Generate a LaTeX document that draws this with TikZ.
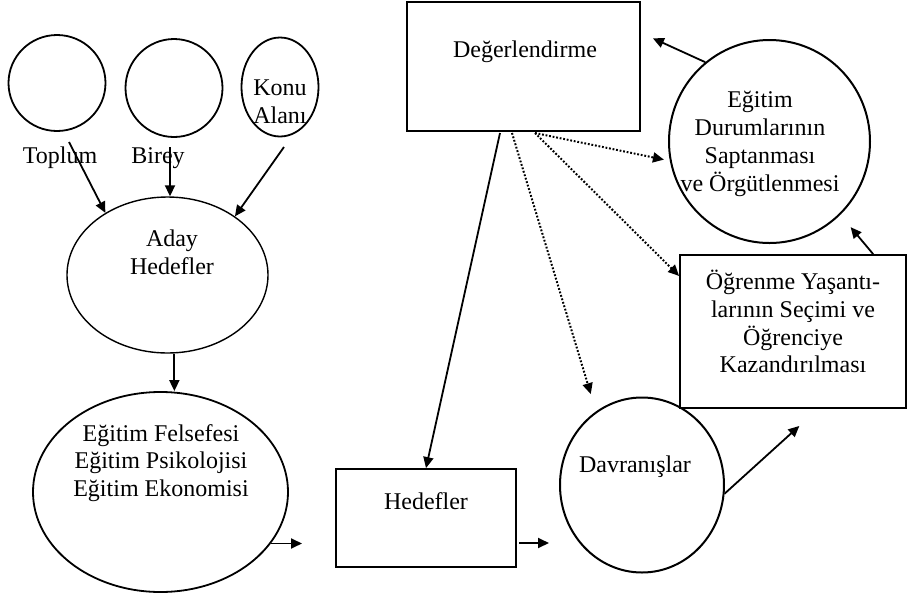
\documentclass[tikz,border=0pt]{standalone}
\usepackage{fontspec}
\setmainfont{Liberation Serif}
\usetikzlibrary{shapes.geometric,arrows.meta}

\tikzset{
  shapeline/.style={draw=black, line width=0.9pt},
  oval/.style={shapeline, ellipse, inner sep=0pt},
  box/.style={shapeline, rectangle, inner sep=0pt},
  txt/.style={align=center, inner sep=0pt, font=\fontsize{12}{13.9}\selectfont},
  arr/.style={line width=0.9pt, -{Triangle[length=5.5pt,width=5pt]}},
  dotarr/.style={arr, line width=1pt, dash pattern=on 0.9pt off 0.9pt}
}

\begin{document}
\begin{tikzpicture}[x=0.5pt, y=-0.5pt]
  \useasboundingbox (0,0) rectangle (907,596);

  % source circles
  \node[oval, minimum width=48.5pt, minimum height=48pt] (toplum) at (57,83) {};
  \node[oval, minimum width=48.5pt, minimum height=49pt] (birey) at (174,88) {};
  \node[oval, minimum width=38.5pt, minimum height=49.5pt] (konu) at (280,87) {};
  \node[txt] (konutxt) at (280,102) {Konu\\Alanı};
  \node[txt] (toplumtxt) at (60,158) {Toplum};
  \node[txt] (bireytxt) at (158,158) {Birey};

  % left column
  \node[oval, line width=0.7pt, minimum width=100.5pt, minimum height=78pt] (aday) at (167.5,275) {};
  \node[txt] (adaytxt) at (172,252) {Aday\\Hedefler};
  \node[oval, minimum width=127.5pt, minimum height=100pt] (egitim) at (160.5,492) {};
  \node[txt] (egitimtxt) at (161,463) {Eğitim Felsefesi\\Eğitim Psikolojisi\\Eğitim Ekonomisi};

  % bottom row
  \node[box, minimum width=90pt, minimum height=49pt] (hedef) at (426,518) {};
  \node[txt] (hedeftxt) at (426,501) {Hedefler};
  \node[oval, line width=1pt, minimum width=82pt, minimum height=87.5pt] (davranis) at (642,485) {};
  \node[txt] (davranistxt) at (635,467) {Davranışlar};

  % evaluation and right side
  \node[box, minimum width=116.5pt, minimum height=64.5pt] (deger) at (523.5,66.5) {};
  \node[txt] (degertxt) at (525,52) {Değerlendirme};
  \node[oval, line width=1pt, minimum width=100.5pt, minimum height=101.5pt] (durum) at (769.5,141.5) {};
  \node[txt] (durumtxt) at (760,144) {Eğitim\\Durumlarının\\Saptanması\\ve Örgütlenmesi};
  \node[box, minimum width=113pt, minimum height=76.5pt] (ogren) at (793,331.5) {};
  \node[txt] (ogrentxt) at (793,321.5) {Öğrenme Yaşantı-\\larının Seçimi ve\\Öğrenciye\\Kazandırılması};

  % free connector ends
  \coordinate (toplumout) at (69,142);
  \coordinate (bireyout) at (170,147);
  \coordinate (konuout) at (284,147);
  \coordinate (egitimend) at (302,543);
  \coordinate (hedefout) at (519,543);
  \coordinate (hedefend) at (549,543);
  \coordinate (degerA) at (500,133);
  \coordinate (degerB) at (535,133);
  \coordinate (degerC) at (512,133);

  % solid connectors
  \draw[arr] (toplumout) -- (aday.135);
  \draw[arr] (bireyout) -- (bireyout |- aday.north);
  \draw[arr] (konuout) -- (aday.41);
  \draw[arr] (aday.-85) -- (aday.-85 |- egitim.north);
  \draw[arr] (egitim.-25) -- (egitim.-25 -| egitimend);
  \draw[arr] (hedefout) -- (hedefend);
  \draw[arr] (degerA) -- (hedef.north);
  \draw[arr, shorten >=12.7pt] (davranis.-6) -- (ogren.-72);
  \draw[arr, shorten >=8pt] (ogren.44) -- (durum.-46);
  \draw[arr, shorten >=6.6pt] (durum.129) -- (deger.16);

  % dotted connectors
  \draw[dotarr, shorten >=3pt] (degerB) -- (durum.191);
  \draw[dotarr] (degerB) -- (ogren.154);
  \draw[dotarr, shorten >=9pt] (degerC) -- (davranis.122);
\end{tikzpicture}
\end{document}
